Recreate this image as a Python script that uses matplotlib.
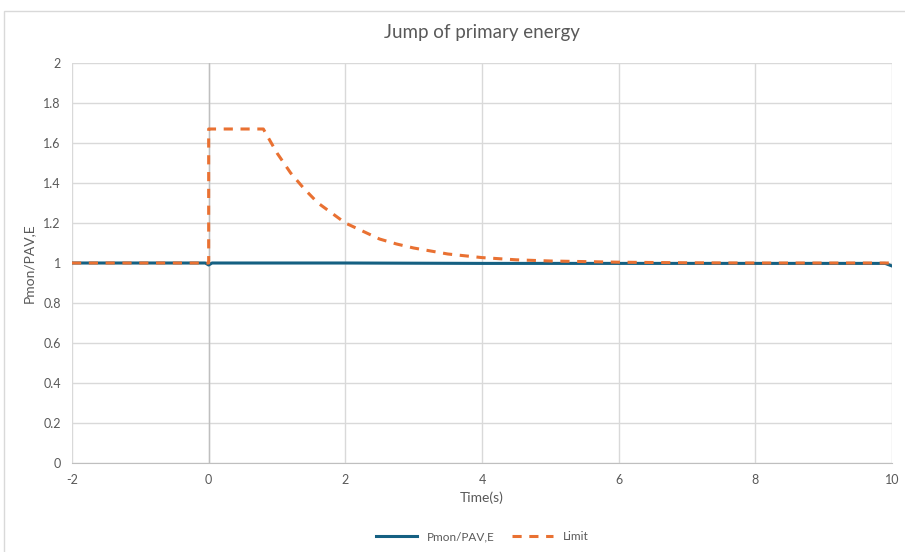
import matplotlib
matplotlib.use("Agg")
import matplotlib.pyplot as plt
from matplotlib.patches import Rectangle

time_pmon = [-2, -0.05, 0.0, 0.05, 2, 4, 6, 8, 9.9, 10]
pmon = [1.0, 1.0, 0.99, 1.0, 1.0, 0.998, 0.998, 0.998, 0.998, 0.985]

# limit curve
time_limit = [-2, 0, 0, 0.8, 1.0, 1.2, 1.4, 1.6, 1.8, 2.0, 2.25, 2.5,
              2.75, 3.0, 3.5, 4.0, 4.5, 5.0, 6.0, 7.0, 8.0, 10.0]
limit = [1.0, 1.0, 1.67, 1.67, 1.55, 1.45, 1.37, 1.30, 1.25, 1.20, 1.16, 1.12,
         1.095, 1.075, 1.045, 1.027, 1.016, 1.01, 1.004, 1.001, 1.0, 1.0]

x_ticks = [-2, 0, 2, 4, 6, 8, 10]
y_ticks = [0, 0.2, 0.4, 0.6, 0.8, 1, 1.2, 1.4, 1.6, 1.8, 2]

plt.rcParams['font.family'] = ['Lato', 'DejaVu Sans']
text_grey = '#595959'

fig = plt.figure(figsize=(9.05, 5.52), dpi=100)
fig.patches.append(Rectangle((4 / 905, -0.01), 1.0, 1 - 11 / 552 + 0.01,
                             transform=fig.transFigure, fill=False,
                             edgecolor='#D9D9D9', linewidth=1.0))
ax = fig.add_axes([72 / 905, 1 - 463 / 552, 820 / 905, 400 / 552])

ax.plot(time_pmon, pmon, color='#156082', linewidth=2.2, label='Pmon/PAV,E',
        zorder=3)
ax.plot(time_limit, limit, color='#E97132', linewidth=2.2, linestyle=(0, (3, 2.5)),
        label='Limit', zorder=4)

ax.set_xlim(-2, 10)
ax.set_ylim(0, 2)
ax.set_xticks(x_ticks)
ax.set_xticklabels([str(t) for t in x_ticks])
ax.set_yticks(y_ticks)
ax.set_yticklabels(['0', '0.2', '0.4', '0.6', '0.8', '1', '1.2', '1.4', '1.6', '1.8', '2'])
ax.grid(True, color='#D9D9D9', linewidth=1.0)
ax.set_axisbelow(True)
ax.axvline(0, color='#BFBFBF', linewidth=1.0, zorder=1.5)
for s in ['top', 'right', 'left']:
    ax.spines[s].set_visible(False)
ax.spines['bottom'].set_color('#BFBFBF')
ax.tick_params(length=0, colors=text_grey, labelsize=9, pad=8)

ax.set_title('Jump of primary energy', fontsize=13.5, color=text_grey, pad=18)
ax.set_xlabel('Time(s)', fontsize=10, color=text_grey, labelpad=4)
ax.set_ylabel('Pmon/PAV,E', fontsize=10, color=text_grey, labelpad=6)

ax.legend(loc='center', bbox_to_anchor=(0.5, -0.185), ncol=2, frameon=False,
          fontsize=8.5, labelcolor=text_grey, handlelength=3.5, columnspacing=1.5)

fig.savefig('out.png', dpi=100)
